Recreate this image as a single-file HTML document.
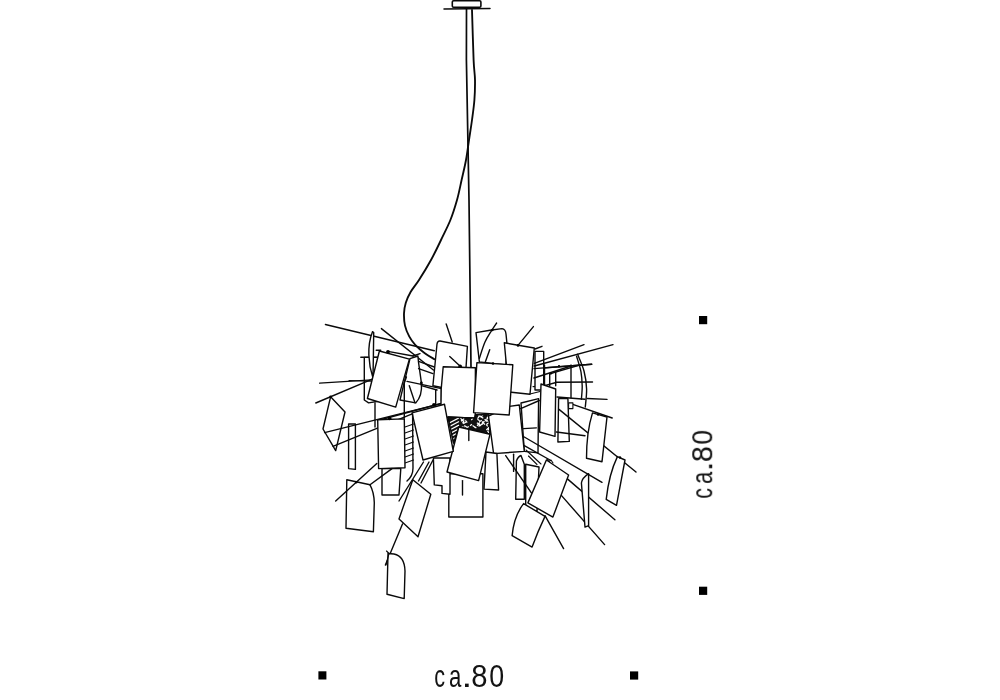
<!DOCTYPE html>
<html><head><meta charset="utf-8"><title>Lamp dimensions</title>
<style>
html,body{margin:0;padding:0;background:#fff;}
body{width:1000px;height:700px;overflow:hidden;font-family:"Liberation Sans",sans-serif;}
svg{display:block;}
text{font-family:"Liberation Sans",sans-serif;fill:#111;}
</style></head><body>
<svg width="1000" height="700" viewBox="0 0 1000 700">
<rect width="1000" height="700" fill="#fff"/>
<g stroke="#0a0a0a" stroke-linecap="round" stroke-linejoin="round" fill="none">
<rect x="452.3" y="0.8" width="28.6" height="6.4" rx="1.2" fill="#fff" stroke-width="1.6"/>
<line x1="444.0" y1="9.1" x2="490.0" y2="8.6" stroke-width="1.5"/>
<polyline points="466.5,9.0 466.4,60.0 469.0,200.0 471.0,367.0" fill="none" stroke-width="1.7"/>
<path d="M472.0,10.0 C472.3,18.3 473.1,48.3 473.6,60.0 C474.1,71.7 474.9,73.3 475.0,80.0 C475.1,86.7 474.9,93.3 474.4,100.0 C473.9,106.7 472.9,113.3 472.0,120.0 C471.1,126.7 470.0,133.3 469.0,140.0 C468.0,146.7 467.2,153.3 466.0,160.0 C464.8,166.7 463.1,173.3 461.6,180.0 C460.1,186.7 458.9,193.3 457.0,200.0 C455.1,206.7 453.1,213.3 450.4,220.0 C447.7,226.7 444.2,233.3 441.0,240.0 C437.8,246.7 434.7,253.3 431.0,260.0 C427.3,266.7 422.4,274.7 419.0,280.0 C415.6,285.3 412.8,288.2 410.6,292.0 C408.4,295.8 406.9,299.2 405.8,302.8 C404.7,306.4 404.1,309.8 404.0,313.6 C403.9,317.4 404.1,321.8 405.0,325.6 C405.9,329.4 407.5,333.2 409.2,336.4 C410.9,339.6 412.6,342.0 415.2,344.8 C417.8,347.6 421.6,350.8 424.8,353.2 C428.0,355.6 432.8,358.2 434.4,359.2" fill="none" stroke-width="1.85"/>
<line x1="325.4" y1="324.5" x2="434.3" y2="350.7" stroke-width="1.4"/>
<line x1="381.4" y1="328.6" x2="433.4" y2="370.0" stroke-width="1.4"/>
<line x1="378.6" y1="420.3" x2="442.0" y2="403.2" stroke-width="1.4"/>
<line x1="543.0" y1="368.0" x2="591.7" y2="364.3" stroke-width="1.4"/>
<line x1="550.5" y1="373.7" x2="579.7" y2="365.0" stroke-width="1.4"/>
<line x1="555.7" y1="382.3" x2="592.5" y2="382.0" stroke-width="1.4"/>
<line x1="587.4" y1="398.5" x2="607.0" y2="399.4" stroke-width="1.4"/>
<line x1="572.8" y1="404.3" x2="612.2" y2="418.0" stroke-width="1.4"/>
<line x1="560.9" y1="494.9" x2="604.6" y2="544.6" stroke-width="1.4"/>
<line x1="567.1" y1="478.6" x2="614.9" y2="519.7" stroke-width="1.4"/>
<line x1="545.0" y1="515.7" x2="563.6" y2="548.6" stroke-width="1.4"/>
<line x1="557.0" y1="397.0" x2="585.0" y2="399.2" stroke-width="1.4"/>
<line x1="530.0" y1="394.0" x2="540.0" y2="391.5" stroke-width="1.1"/>
<line x1="533.0" y1="386.6" x2="540.0" y2="386.3" stroke-width="1.1"/>
<path d="M577.6,354.3 C578.7,357.1 582.5,365.2 584.0,371.0 C585.5,376.8 586.4,383.0 586.6,389.0 C586.8,395.0 585.5,404.0 585.3,407.0" fill="none" stroke-width="1.4"/>
<path d="M576.6,356.2 C577.3,358.8 580.1,367.0 581.0,372.0 C581.9,377.0 582.1,381.4 582.2,386.0 C582.3,390.6 581.5,397.1 581.4,399.3" fill="none" stroke-width="1.4"/>
<line x1="571.0" y1="365.0" x2="571.0" y2="397.7" stroke-width="1.4"/>
<line x1="555.7" y1="372.0" x2="555.7" y2="385.7" stroke-width="1.4"/>
<line x1="544.5" y1="365.0" x2="544.5" y2="385.7" stroke-width="1.4"/>
<line x1="549.7" y1="373.7" x2="549.7" y2="385.7" stroke-width="1.4"/>
<circle cx="559.0" cy="366.2" r="1.2" fill="#000" stroke="none"/>
<circle cx="551.0" cy="373.2" r="1.2" fill="#000" stroke="none"/>
<line x1="446.2" y1="324.0" x2="452.2" y2="342.0" stroke-width="1.4"/>
<line x1="533.4" y1="326.6" x2="518.0" y2="345.4" stroke-width="1.4"/>
<polygon points="364.3,357.4 380.0,357.4 380.0,401.0 368.6,402.9 364.3,400.0" fill="#fff" stroke-width="1.4"/>
<line x1="360.8" y1="357.2" x2="378.0" y2="357.2" stroke-width="1.4"/>
<line x1="319.6" y1="383.1" x2="371.7" y2="379.9" stroke-width="1.4"/>
<line x1="315.8" y1="403.0" x2="371.7" y2="379.3" stroke-width="1.4"/>
<line x1="349.0" y1="380.5" x2="370.5" y2="381.2" stroke-width="1.1"/>
<path d="M372.5,331.7 C366.8,346 368.3,364 373,378 L373.4,355 L373.7,332.5 Z" fill="#fff" stroke-width="1.4"/>
<path d="M410,358.6 L417.9,356 L418.6,362.9 L421.4,382.9 Q422.5,396 415.7,402.9 L400,400 Z" fill="#fff" stroke-width="1.4"/>
<line x1="409.3" y1="385.7" x2="415.0" y2="402.9" stroke-width="1.4"/>
<line x1="407.0" y1="381.4" x2="441.4" y2="388.6" stroke-width="1.4"/>
<line x1="421.4" y1="385.7" x2="437.0" y2="390.0" stroke-width="1.4"/>
<line x1="418.6" y1="361.4" x2="434.3" y2="367.0" stroke-width="1.4"/>
<line x1="418.6" y1="368.6" x2="432.9" y2="373.6" stroke-width="1.4"/>
<polygon points="330.6,396.8 345.0,412.0 335.7,450.6 323.0,429.0" fill="#fff" stroke-width="1.4"/>
<circle cx="330.6" cy="396.8" r="1.3" fill="#000" stroke="none"/>
<polygon points="348.6,424.0 355.4,424.0 355.4,469.4 348.6,468.6" fill="#fff" stroke-width="1.4"/>
<line x1="324.6" y1="432.6" x2="442.0" y2="403.4" stroke-width="1.4"/>
<line x1="333.0" y1="446.3" x2="412.8" y2="413.7" stroke-width="1.4"/>
<line x1="376.2" y1="350.3" x2="380.7" y2="350.3" stroke-width="1.4"/>
<polygon points="379.4,351.0 409.4,359.1 395.7,407.1 367.4,398.5" fill="#fff" stroke-width="1.4"/>
<line x1="387.9" y1="351.4" x2="413.0" y2="356.0" stroke-width="1.4"/>
<line x1="413.0" y1="356.0" x2="420.0" y2="353.6" stroke-width="1.4"/>
<circle cx="388.0" cy="351.8" r="1.9" fill="#000" stroke="none"/>
<line x1="375.0" y1="403.0" x2="375.0" y2="427.0" stroke-width="1.4"/>
<line x1="404.3" y1="383.0" x2="404.3" y2="418.0" stroke-width="1.4"/>
<line x1="406.4" y1="377.0" x2="404.3" y2="383.0" stroke-width="1.4"/>
<line x1="435.7" y1="390.0" x2="435.7" y2="404.0" stroke-width="1.4"/>
<line x1="441.4" y1="388.6" x2="441.4" y2="401.0" stroke-width="1.4"/>
<circle cx="421.4" cy="382.9" r="1.4" fill="#000" stroke="none"/>
<path d="M476,332.6 L490,330.3 L502,328.6 Q505.5,329 506,334 L506.8,342 L506,365 L479.4,362 Z" fill="#fff" stroke-width="1.4"/>
<path d="M496.6,323.0 C495.8,324.2 493.9,326.8 492.0,330.0 C490.1,333.2 487.1,337.3 485.0,342.0 C482.9,346.7 480.3,355.6 479.4,358.3" fill="none" stroke-width="1.4"/>
<circle cx="492.3" cy="330.0" r="1.3" fill="#000" stroke="none"/>
<line x1="489.7" y1="349.7" x2="485.4" y2="361.7" stroke-width="1.4"/>
<path d="M440,341 L467.4,346.4 L464.4,392 L432.9,385.7 L437,344 Q437.5,340.8 440,341 Z" fill="#fff" stroke-width="1.4"/>
<line x1="449.7" y1="356.6" x2="460.8" y2="366.8" stroke-width="1.4"/>
<circle cx="460.2" cy="366.3" r="1.8" fill="#000" stroke="none"/>
<polygon points="535.0,351.4 543.7,351.4 543.7,390.0 535.0,390.0" fill="#fff" stroke-width="1.4"/>
<line x1="535.0" y1="349.0" x2="542.0" y2="346.3" stroke-width="1.4"/>
<line x1="534.0" y1="368.6" x2="591.7" y2="364.3" stroke-width="1.4"/>
<line x1="534.0" y1="378.0" x2="571.0" y2="366.0" stroke-width="1.4"/>
<line x1="544.6" y1="385.7" x2="556.0" y2="382.5" stroke-width="1.4"/>
<line x1="534.3" y1="363.4" x2="584.0" y2="344.6" stroke-width="1.4"/>
<line x1="534.3" y1="366.0" x2="613.0" y2="344.6" stroke-width="1.4"/>
<polygon points="504.3,342.8 534.3,348.0 530.0,394.3 509.0,392.0" fill="#fff" stroke-width="1.4"/>
<circle cx="518.0" cy="345.4" r="1.3" fill="#000" stroke="none"/>
<polygon points="521.0,403.0 538.6,398.6 538.0,452.9 524.3,451.4" fill="#fff" stroke-width="1.4"/>
<line x1="520.7" y1="408.6" x2="539.3" y2="400.5" stroke-width="1.4"/>
<line x1="523.6" y1="428.6" x2="536.4" y2="427.9" stroke-width="1.4"/>
<line x1="524.3" y1="437.0" x2="602.0" y2="482.3" stroke-width="1.4"/>
<line x1="524.3" y1="445.7" x2="550.0" y2="460.0" stroke-width="1.4"/>
<line x1="526.0" y1="450.0" x2="541.0" y2="464.0" stroke-width="1.1"/>
<line x1="528.5" y1="456.0" x2="537.0" y2="464.5" stroke-width="1.1"/>
<path d="M443.2,366.7 L475.4,367.7 L475.2,418.2 L440.8,417.4 L441.2,389 Z" fill="#fff" stroke-width="1.4"/>
<clipPath id="cc"><polygon points="448.0,417.0 474.8,418.2 475.6,414.6 488.8,415.0 490.0,434.2 467.6,428.6 458.8,427.0 453.6,443.0"/></clipPath>
<polygon points="448.0,417.0 474.8,418.2 475.6,414.6 488.8,415.0 490.0,434.2 467.6,428.6 458.8,427.0 453.6,443.0" fill="#111" stroke-width="1.3"/>
<g clip-path="url(#cc)" stroke="#fff" stroke-width="1.25" stroke-linecap="butt">
<line x1="446" y1="424.7" x2="459" y2="417.9"/>
<line x1="446" y1="428.3" x2="459" y2="421.5"/>
<line x1="446" y1="431.9" x2="459" y2="425.1"/>
<line x1="446" y1="435.5" x2="459" y2="428.7"/>
<line x1="446" y1="439.1" x2="459" y2="432.3"/>
<line x1="446" y1="442.7" x2="459" y2="435.9"/>
<line x1="472.6" y1="425.5" x2="475.1" y2="427.3"/>
<line x1="484.7" y1="419.2" x2="486.6" y2="421.7"/>
<line x1="477.4" y1="419.2" x2="479.7" y2="420.7"/>
<line x1="461.7" y1="429.8" x2="463.0" y2="426.5"/>
<line x1="476.9" y1="422.7" x2="479.8" y2="424.7"/>
<line x1="477.5" y1="418.7" x2="479.9" y2="415.7"/>
<line x1="460.9" y1="416.6" x2="463.5" y2="414.4"/>
<line x1="482.3" y1="421.5" x2="484.8" y2="424.6"/>
<line x1="474.6" y1="426.9" x2="476.4" y2="428.1"/>
<line x1="461.5" y1="427.1" x2="465.0" y2="429.5"/>
<line x1="488.9" y1="430.3" x2="489.9" y2="427.8"/>
<line x1="481.7" y1="424.7" x2="483.2" y2="422.9"/>
<line x1="482.0" y1="422.8" x2="484.6" y2="421.4"/>
<line x1="487.7" y1="430.4" x2="489.4" y2="428.3"/>
<line x1="486.8" y1="416.9" x2="490.2" y2="419.2"/>
<line x1="470.9" y1="417.2" x2="471.9" y2="414.8"/>
<line x1="479.2" y1="421.7" x2="481.8" y2="420.4"/>
<line x1="487.9" y1="428.9" x2="489.5" y2="427.0"/>
<line x1="480.2" y1="416.2" x2="483.3" y2="418.3"/>
<line x1="464.3" y1="425.5" x2="467.0" y2="427.3"/>
<line x1="488.6" y1="429.1" x2="491.4" y2="431.1"/>
<line x1="462.5" y1="423.2" x2="464.2" y2="421.7"/>
<line x1="484.9" y1="432.6" x2="486.7" y2="434.8"/>
<line x1="485.5" y1="419.6" x2="489.0" y2="421.9"/>
<line x1="477.1" y1="425.8" x2="479.7" y2="422.5"/>
<line x1="465.4" y1="420.4" x2="467.2" y2="422.6"/>
<line x1="467.9" y1="417.2" x2="469.5" y2="415.2"/>
<line x1="478.1" y1="416.3" x2="480.7" y2="414.9"/>
<line x1="472.6" y1="432.3" x2="475.8" y2="434.5"/>
<line x1="463.1" y1="422.6" x2="464.0" y2="420.2"/>
<line x1="486.3" y1="429.9" x2="489.0" y2="427.6"/>
<line x1="463.8" y1="426.7" x2="465.4" y2="428.7"/>
<line x1="487.5" y1="431.0" x2="489.0" y2="432.8"/>
<line x1="460.4" y1="417.9" x2="463.0" y2="421.1"/>
<line x1="466.2" y1="428.0" x2="468.8" y2="426.5"/>
<line x1="486.1" y1="424.3" x2="487.7" y2="426.3"/>
<line x1="480.6" y1="417.2" x2="483.0" y2="415.1"/>
<line x1="478.6" y1="426.5" x2="480.3" y2="424.3"/>
<line x1="486.5" y1="419.5" x2="488.0" y2="417.6"/>
<line x1="471.3" y1="420.2" x2="472.9" y2="418.2"/>
<line x1="470.1" y1="425.7" x2="471.9" y2="424.2"/>
<line x1="463.2" y1="423.7" x2="466.2" y2="422.0"/>
<line x1="479.7" y1="425.9" x2="482.3" y2="423.8"/>
<line x1="486.7" y1="424.1" x2="489.9" y2="422.3"/>
<line x1="487.9" y1="416.4" x2="488.7" y2="414.2"/>
<line x1="461.0" y1="421.3" x2="464.2" y2="418.6"/>
</g>
<polygon points="448.0,417.0 474.8,418.2 475.6,414.6 488.8,415.0 490.0,434.2 467.6,428.6 458.8,427.0 453.6,443.0" fill="none" stroke-width="1.3"/>
<polygon points="488.5,416.0 509.3,406.4 519.3,405.0 524.3,451.4 493.6,453.6" fill="#fff" stroke-width="1.4"/>
<polygon points="476.9,362.6 512.8,364.8 509.2,415.0 473.6,412.6" fill="#fff" stroke-width="1.4"/>
<circle cx="493.0" cy="363.5" r="1.3" fill="#000" stroke="none"/>
<polygon points="541.0,384.0 555.7,389.0 555.0,436.4 539.6,432.0" fill="#fff" stroke-width="1.4"/>
<polygon points="558.6,398.6 567.9,398.6 569.3,441.4 557.9,442.0" fill="#fff" stroke-width="1.4"/>
<polygon points="568.6,402.9 572.9,402.9 572.9,408.6 568.6,408.6" fill="#fff" stroke-width="1.1"/>
<line x1="559.0" y1="409.4" x2="636.0" y2="472.0" stroke-width="1.4"/>
<line x1="556.4" y1="432.0" x2="585.0" y2="435.7" stroke-width="1.4"/>
<path d="M592.5,412.9 L607,417 L602,461.7 L586.5,458.3 Q586.5,432 592.5,412.9 Z" fill="#fff" stroke-width="1.4"/>
<circle cx="598.0" cy="414.5" r="1.2" fill="#000" stroke="none"/>
<path d="M617.4,456.6 L625,460 L616.5,505.4 L606.2,499.4 Q609,474 617.4,456.6 Z" fill="#fff" stroke-width="1.4"/>
<circle cx="620.0" cy="457.5" r="1.2" fill="#000" stroke="none"/>
<line x1="513.6" y1="454.3" x2="513.6" y2="471.4" stroke-width="1.4"/>
<polygon points="525.7,464.3 539.0,467.0 537.0,511.4 525.7,508.6" fill="#fff" stroke-width="1.4"/>
<path d="M516.4,461 Q518,456.5 521,455.5 L524.3,464.3 L524.3,499.3 L515.7,499.3 Z" fill="#fff" stroke-width="1.4"/>
<line x1="505.7" y1="455.7" x2="531.4" y2="492.9" stroke-width="1.4"/>
<polygon points="486.0,452.0 496.9,453.5 498.6,490.0 484.0,489.1" fill="#fff" stroke-width="1.4"/>
<polygon points="448.8,473.7 482.9,473.7 482.9,517.0 448.8,517.0" fill="#fff" stroke-width="1.4"/>
<line x1="462.5" y1="480.6" x2="462.5" y2="495.0" stroke-width="1.4"/>
<polygon points="433.4,458.0 450.0,458.0 450.0,494.3 442.0,493.4 442.0,485.7 434.3,484.9" fill="#fff" stroke-width="1.4"/>
<polygon points="458.8,427.0 490.0,434.2 478.6,480.6 447.0,472.0" fill="#fff" stroke-width="1.4"/>
<line x1="468.8" y1="429.4" x2="468.8" y2="440.6" stroke-width="1.4"/>
<polygon points="412.0,412.9 444.5,404.3 453.3,451.4 423.0,460.0" fill="#fff" stroke-width="1.4"/>
<circle cx="434.0" cy="404.8" r="1.9" fill="#000" stroke="none"/>
<line x1="405.0" y1="427.0" x2="413.5" y2="424.0" stroke-width="1.1"/>
<line x1="405.0" y1="433.0" x2="413.5" y2="430.0" stroke-width="1.1"/>
<line x1="405.0" y1="439.0" x2="413.5" y2="436.0" stroke-width="1.1"/>
<line x1="405.0" y1="445.0" x2="413.5" y2="442.0" stroke-width="1.1"/>
<line x1="405.0" y1="451.0" x2="413.5" y2="448.0" stroke-width="1.1"/>
<line x1="405.0" y1="457.0" x2="413.5" y2="454.0" stroke-width="1.1"/>
<line x1="405.0" y1="463.0" x2="413.5" y2="460.0" stroke-width="1.1"/>
<path d="M412.6,414 L413,468 Q413,476 407,481" fill="none" stroke-width="1.4"/>
<polygon points="382.0,468.6 400.8,468.6 399.0,495.0 382.0,495.0" fill="#fff" stroke-width="1.4"/>
<polygon points="377.7,419.7 404.3,418.9 405.0,467.7 378.6,468.6" fill="#fff" stroke-width="1.4"/>
<circle cx="389.7" cy="418.4" r="1.8" fill="#000" stroke="none"/>
<path d="M346.8,479.7 L370,484.8 Q374,492 374.3,502.8 L373.4,531.7 L346,528.3 Z" fill="#fff" stroke-width="1.4"/>
<line x1="335.7" y1="501.0" x2="376.8" y2="463.4" stroke-width="1.4"/>
<line x1="370.0" y1="484.8" x2="392.0" y2="468.6" stroke-width="1.4"/>
<circle cx="356.3" cy="482.3" r="1.2" fill="#000" stroke="none"/>
<line x1="399.0" y1="501.0" x2="423.5" y2="462.0" stroke-width="1.4"/>
<line x1="418.5" y1="481.0" x2="429.0" y2="462.0" stroke-width="1.4"/>
<line x1="421.0" y1="483.0" x2="433.0" y2="460.0" stroke-width="1.4"/>
<line x1="402.5" y1="524.0" x2="385.4" y2="565.0" stroke-width="1.4"/>
<polygon points="412.8,479.7 430.8,494.3 418.0,536.8 399.0,518.9" fill="#fff" stroke-width="1.4"/>
<path d="M523.6,503.6 L545,516.4 Q538,531 532.1,547.1 L512.1,535.7 Q514,516 523.6,503.6 Z" fill="#fff" stroke-width="1.4"/>
<polygon points="546.4,460.0 568.6,475.0 552.9,517.1 527.9,502.9" fill="#fff" stroke-width="1.4"/>
<polyline points="547.0,459.0 549.0,461.5 551.0,460.0 553.0,463.0" fill="none" stroke-width="1.1"/>
<path d="M588.6,473.6 Q582,478 581.4,483 L585,527.1 L588.6,525.7 Z" fill="#fff" stroke-width="1.4"/>
<path d="M388,553.5 L394,554 Q404.5,556 405,571 L404.2,598.6 L387,594.2 Z" fill="#fff" stroke-width="1.4"/>
<polyline points="386.5,551.0 389.0,553.5 386.0,565.0" fill="none" stroke-width="1.1"/>
</g>
<g fill="#000">
<rect x="318.4" y="671.3" width="8" height="8.2"/>
<rect x="630" y="671.4" width="8.2" height="8.2"/>
<rect x="699" y="316" width="8.2" height="8.2"/>
<rect x="699" y="586.7" width="8.2" height="8.2"/>
</g>
<g opacity="0.99"><g transform="translate(435,686.6)"><text transform="translate(-0.86,0) scale(0.7,1)" font-size="30.8">c</text><text transform="translate(14.11,0) scale(0.72,1)" font-size="30.8">a</text><text transform="translate(26.54,0) scale(1.25,1)" font-size="30.8">.</text><text transform="translate(36.33,0) scale(0.95,1)" font-size="30.8">8</text><text transform="translate(54.20,0) scale(0.87,1)" font-size="30.8">0</text></g>
<g transform="translate(712.3,497.9) rotate(-90) scale(0.985,0.97)"><text transform="translate(-0.86,0) scale(0.7,1)" font-size="30.8">c</text><text transform="translate(14.11,0) scale(0.72,1)" font-size="30.8">a</text><text transform="translate(26.54,0) scale(1.25,1)" font-size="30.8">.</text><text transform="translate(36.33,0) scale(0.95,1)" font-size="30.8">8</text><text transform="translate(54.20,0) scale(0.87,1)" font-size="30.8">0</text></g></g>
</svg>
</body></html>
